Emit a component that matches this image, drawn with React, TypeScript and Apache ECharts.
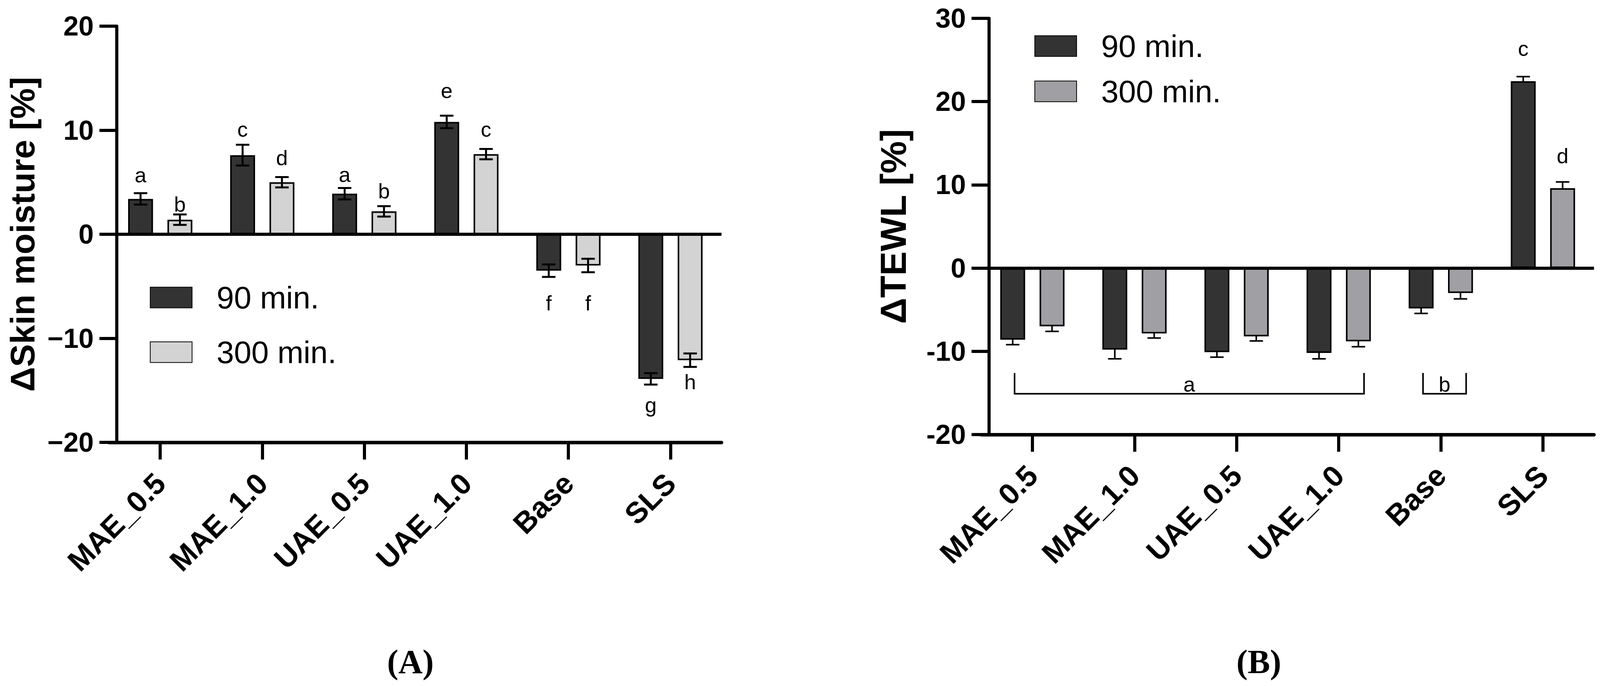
import React, { useEffect, useRef } from 'react';
import * as echarts from 'echarts';

// ---------- data ----------
const categories = ['MAE_0.5', 'MAE_1.0', 'UAE_0.5', 'UAE_1.0', 'Base', 'SLS'];

// Panel A: ΔSkin moisture [%]
const moisture90 = [3.4, 7.6, 3.9, 10.8, -3.5, -13.9];
const moisture90Err = [0.55, 1.0, 0.55, 0.6, 0.6, 0.55];
const moisture300 = [1.4, 5.0, 2.2, 7.7, -3.0, -12.1];
const moisture300Err = [0.5, 0.5, 0.5, 0.5, 0.65, 0.65];
const moisture90Letters = ['a', 'c', 'a', 'e', 'f', 'g'];
const moisture90LetterY = [5.7, 10.1, 5.75, 13.8, -6.6, -16.4];
const moisture300Letters = ['b', 'd', 'b', 'c', 'f', 'h'];
const moisture300LetterY = [2.9, 7.35, 4.15, 10.1, -6.6, -14.2];

// Panel B: ΔTEWL [%]
const tewl90 = [-8.6, -9.8, -10.1, -10.2, -4.85, 22.45];
const tewl90Err = [0.6, 1.1, 0.6, 0.7, 0.6, 0.55];
const tewl300 = [-7.0, -7.85, -8.2, -8.8, -3.0, 9.6];
const tewl300Err = [0.6, 0.55, 0.55, 0.65, 0.7, 0.75];
const tewl90Letters = ['', '', '', '', '', 'c'];
const tewl90LetterY = [0, 0, 0, 0, 0, 26.4];
const tewl300Letters = ['', '', '', '', '', 'd'];
const tewl300LetterY = [0, 0, 0, 0, 0, 13.5];
const tewlBracketLabels = ['a', 'b'];
const tewlBracketFrom = [0, 4];
const tewlBracketTo = [3, 4];
const tewlBracketTop = -12.6;
const tewlBracketBottom = -15.1;
const tewlBracketLabelY = -13.95;

const yTicksA = { min: -20, max: 20, interval: 10 };
const yTicksB = { min: -20, max: 30, interval: 10 };

// ---------- styling ----------
const FONT = '"Liberation Sans", Arial, sans-serif';
const BAR_W = 0.244;
const BAR_GAP = 0.58;
const DARK = '#333333';
const LIGHT_A = '#d3d3d3';
const LIGHT_B = '#a0a0a4';
const REF_W = 4249;

function barX(api: any, cat: number, s: number) {
  const band = api.size([1, 0])[0];
  const bw = band * BAR_W;
  const off = (bw * (1 + BAR_GAP)) / 2;
  const cx = api.coord([cat, 0])[0];
  return { x: cx + (s === 0 ? -off : off), bw };
}

function buildOption(KX: number) {
  const X = (v: number) => v * KX;

  function errorSeries(axis: number, m90: number[], e90: number[], m300: number[], e300: number[], z: number, lw: number) {
    const data: number[][] = [];
    categories.forEach((_, i) => {
      data.push([i, 0, m90[i], e90[i]]);
      data.push([i, 1, m300[i], e300[i]]);
    });
    return {
      type: 'custom',
      xAxisIndex: axis,
      yAxisIndex: axis,
      z,
      silent: true,
      data,
      encode: { x: 0, y: 2 },
      renderItem: (params: any, api: any) => {
        const cat = api.value(0);
        const s = api.value(1);
        const mean = api.value(2);
        const err = api.value(3);
        const { x, bw } = barX(api, cat, s);
        const yT = api.coord([cat, mean + err])[1];
        const yB = api.coord([cat, mean - err])[1];
        const half = bw * 0.27;
        const st = { stroke: '#000', lineWidth: lw };
        return {
          type: 'group',
          children: [
            { type: 'line', shape: { x1: x, y1: yT, x2: x, y2: yB }, style: st },
            { type: 'line', shape: { x1: x - half, y1: yT, x2: x + half, y2: yT }, style: st },
            { type: 'line', shape: { x1: x - half, y1: yB, x2: x + half, y2: yB }, style: st },
          ],
        };
      },
    };
  }

  function letterSeries(axis: number, l90: string[], y90: number[], l300: string[], y300: number[]) {
    const data: number[][] = [];
    const texts: string[] = [];
    categories.forEach((_, i) => {
      if (l90[i]) { data.push([i, 0, y90[i]]); texts.push(l90[i]); }
      if (l300[i]) { data.push([i, 1, y300[i]]); texts.push(l300[i]); }
    });
    return {
      type: 'custom',
      xAxisIndex: axis,
      yAxisIndex: axis,
      z: 5,
      silent: true,
      data,
      encode: { x: 0, y: 2 },
      renderItem: (params: any, api: any) => {
        const cat = api.value(0);
        const s = api.value(1);
        const { x } = barX(api, cat, s);
        const y = api.coord([cat, api.value(2)])[1];
        return {
          type: 'text',
          x,
          y,
          style: {
            text: texts[params.dataIndex],
            fontSize: 54,
            fontFamily: FONT,
            fill: '#000',
            align: 'center',
            verticalAlign: 'middle',
          },
        };
      },
    };
  }

  function bracketSeries(axis: number) {
    const data = tewlBracketLabels.map((_, k) => [tewlBracketFrom[k], tewlBracketTo[k], tewlBracketTop, tewlBracketBottom, tewlBracketLabelY]);
    return {
      type: 'custom',
      xAxisIndex: axis,
      yAxisIndex: axis,
      z: 5,
      silent: true,
      data,
      encode: { x: [0, 1], y: [2, 3] },
      renderItem: (params: any, api: any) => {
        const from = api.value(0);
        const to = api.value(1);
        const x1 = barX(api, from, 0).x + X(5);
        const x2 = barX(api, to, 1).x + X(15);
        const yT = api.coord([from, api.value(2)])[1];
        const yB = api.coord([from, api.value(3)])[1];
        const yL = api.coord([from, api.value(4)])[1];
        return {
          type: 'group',
          children: [
            {
              type: 'polyline',
              shape: { points: [[x1, yT], [x1, yB], [x2, yB], [x2, yT]] },
              style: { stroke: '#000', lineWidth: 4, fill: 'none' },
            },
            {
              type: 'text',
              x: (x1 + x2) / 2,
              y: yL,
              style: {
                text: tewlBracketLabels[params.dataIndex],
                fontSize: 54,
                fontFamily: FONT,
                fill: '#000',
                align: 'center',
                verticalAlign: 'middle',
              },
            },
          ],
        };
      },
    };
  }

  function xAxis(grid: number) {
    return {
      type: 'category',
      gridIndex: grid,
      data: categories,
      axisLine: { show: true, onZero: false, lineStyle: { color: '#000', width: 9 } },
      axisTick: { show: true, alignWithLabel: true, length: 44, lineStyle: { color: '#000', width: 8 } },
      axisLabel: {
        rotate: 45,
        margin: 92,
        fontSize: 76,
        fontWeight: 'bold',
        fontFamily: FONT,
        color: '#000',
        interval: 0,
      },
      splitLine: { show: false },
    };
  }

  function yAxis(grid: number, ticks: any, name: string, minus: string, nameSize: number) {
    return {
      type: 'value',
      gridIndex: grid,
      min: ticks.min,
      max: ticks.max,
      interval: ticks.interval,
      offset: -X(20),
      name,
      nameLocation: 'middle',
      nameGap: X(205),
      nameTextStyle: { fontSize: nameSize, fontWeight: 'bold', fontFamily: FONT, color: '#000' },
      axisLine: { show: true, lineStyle: { color: '#000', width: 8 } },
      axisTick: { show: true, length: X(46), lineStyle: { color: '#000', width: 8 } },
      axisLabel: {
        margin: X(61),
        fontSize: 70,
        fontWeight: 'bold',
        fontFamily: FONT,
        color: '#000',
        formatter: (v: number) => (v < 0 ? minus + Math.abs(v) : String(v)),
      },
      splitLine: { show: false },
    };
  }

  function barSeries(name: string, axis: number, data: number[], color: string, zeroLine: boolean) {
    const s: any = {
      type: 'bar',
      name,
      xAxisIndex: axis,
      yAxisIndex: axis,
      data,
      barWidth: (BAR_W * 100).toFixed(1) + '%',
      barGap: BAR_GAP * 100 + '%',
      z: 2,
      itemStyle: { color, borderColor: '#000', borderWidth: 4 },
      emphasis: { disabled: true },
    };
    if (zeroLine) {
      s.markLine = {
        silent: true,
        symbol: ['none', 'none'],
        label: { show: false },
        lineStyle: { color: '#000', width: 8, type: 'solid' },
        emphasis: { disabled: true },
        data: [{ yAxis: 0 }],
      };
    }
    return s;
  }

  function legend(left: number, top: number, gap: number, names: string[]) {
    return {
      orient: 'vertical',
      left: X(left),
      top,
      padding: 0,
      data: names,
      icon: 'rect',
      itemWidth: X(111),
      itemHeight: 53,
      itemGap: gap,
      selectedMode: false,
      formatter: (n: string) => n.split('|')[1],
      textStyle: { fontSize: 80, fontFamily: FONT, color: '#000', padding: [0, 0, 0, X(60)] },
    };
  }

  return {
    animation: false,
    backgroundColor: '#fff',
    grid: [
      { left: X(290), top: 67, width: X(1626), height: 1066 },
      { left: X(2606), top: 47, width: X(1627), height: 1066 },
    ],
    xAxis: [xAxis(0), xAxis(1)],
    yAxis: [
      yAxis(0, yTicksA, 'ΔSkin moisture [%]', '−', 88),
      yAxis(1, yTicksB, 'ΔTEWL [%]', '-', 93),
    ],
    legend: [
      legend(398, 722, 60, ['A|90 min.', 'A|300 min.']),
      legend(2747, 78, 36, ['B|90 min.', 'B|300 min.']),
    ],
    series: [
      barSeries('A|90 min.', 0, moisture90, DARK, true),
      barSeries('A|300 min.', 0, moisture300, LIGHT_A, false),
      errorSeries(0, moisture90, moisture90Err, moisture300, moisture300Err, 4, 5),
      letterSeries(0, moisture90Letters, moisture90LetterY, moisture300Letters, moisture300LetterY),
      barSeries('B|90 min.', 1, tewl90, DARK, true),
      barSeries('B|300 min.', 1, tewl300, LIGHT_B, false),
      errorSeries(1, tewl90, tewl90Err, tewl300, tewl300Err, 1, 4),
      letterSeries(1, tewl90Letters, tewl90LetterY, tewl300Letters, tewl300LetterY),
      bracketSeries(1),
    ],
    graphic: [
      {
        type: 'text',
        x: X(1090),
        y: 1695,
        style: { text: '(A)', font: 'bold 86px "Liberation Serif", serif', fill: '#000', align: 'center', verticalAlign: 'middle' },
      },
      {
        type: 'text',
        x: X(3343),
        y: 1695,
        style: { text: '(B)', font: 'bold 86px "Liberation Serif", serif', fill: '#000', align: 'center', verticalAlign: 'middle' },
      },
    ],
  };
}

export default function App() {
  const ref = useRef<HTMLDivElement>(null);
  useEffect(() => {
    if (!ref.current) return;
    const el = ref.current;
    const w = Math.min(window.innerWidth || REF_W, REF_W);
    el.style.width = w + 'px';
    const chart = echarts.init(el, undefined, { renderer: 'svg' });
    chart.setOption(buildOption(w / REF_W));
    return () => chart.dispose();
  }, []);
  return <div ref={ref} style={{ position: 'absolute', left: 0, top: 0, width: REF_W, height: 1757 }} />;
}
